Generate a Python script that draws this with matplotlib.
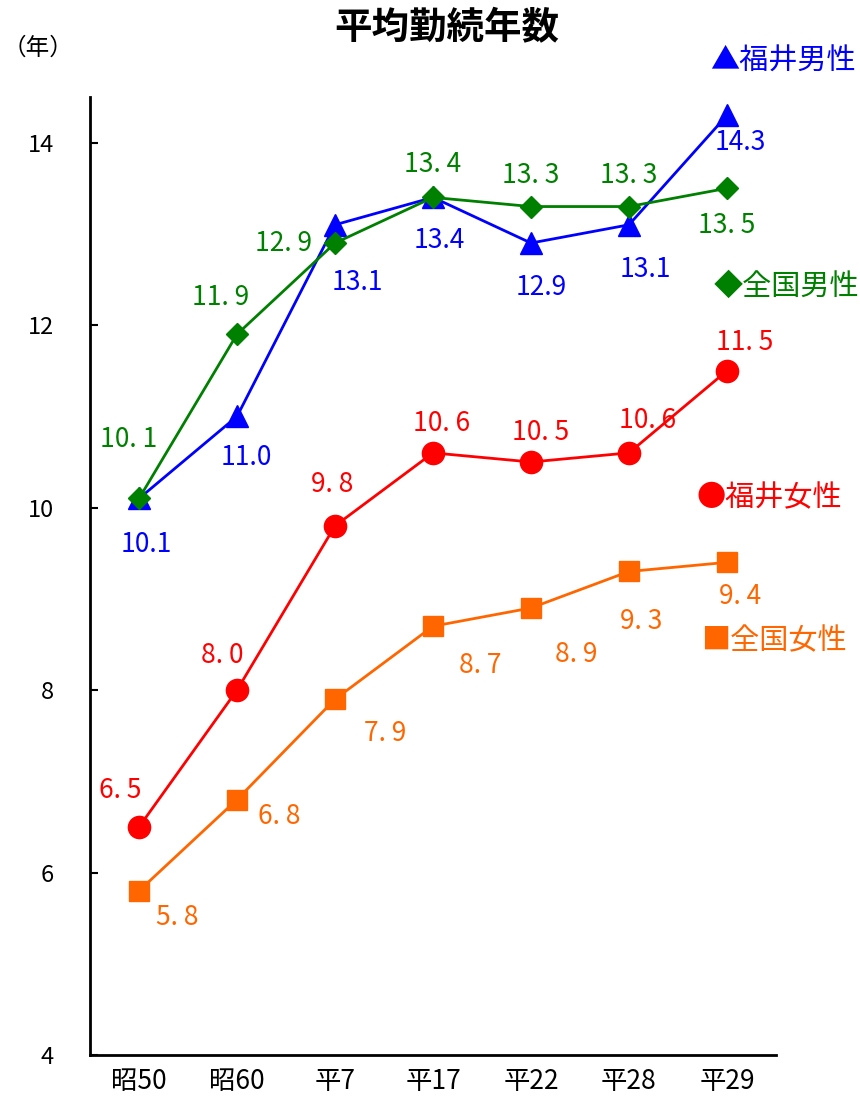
import matplotlib.pyplot as plt

plt.rcParams['font.family'] = ['Noto Sans CJK JP', 'DejaVu Sans']

# データ
years = ["昭50", "昭60", "平7", "平17", "平22", "平28", "平29"]
fukui_male = [10.1, 11.0, 13.1, 13.4, 12.9, 13.1, 14.3]
zenkoku_male = [10.1, 11.9, 12.9, 13.4, 13.3, 13.3, 13.5]
fukui_female = [6.5, 8.0, 9.8, 10.6, 10.5, 10.6, 11.5]
zenkoku_female = [5.8, 6.8, 7.9, 8.7, 8.9, 9.3, 9.4]

# ラベル位置のずれ (ピクセル)
off_fm = [(7, -46), (9, -41), (22, -58), (6, -43), (10, -44), (16, -45), (13, -27)]
off_zm = [(-10, 59), (-16, 37), (-52, 0), (0, 33), (0, 31), (0, 31), (0, -37)]
off_ff = [(-19, 36), (-15, 35), (-3, 41), (9, 29), (10, 29), (19, 32), (18, 28)]
off_zf = [(38, -27), (42, -17), (50, -34), (47, -39), (45, -47), (12, -50), (13, -34)]

BLUE = "#0000FF"
GREEN = "#008000"
RED = "#FF0000"
ORANGE = "#FF6600"

fig = plt.figure(figsize=(8.6, 11.03), dpi=100)
ax = fig.add_axes([0.1047, 0.0435, 0.7976, 0.8685])
xs = list(range(len(years)))

ax.plot(xs, fukui_male, color=BLUE, lw=2, marker="^", ms=16, zorder=3)
ax.plot(xs, zenkoku_male, color=GREEN, lw=2, marker="D", ms=11, zorder=4)
ax.plot(xs, fukui_female, color=RED, lw=2, marker="o", ms=16, zorder=3)
ax.plot(xs, zenkoku_female, color=ORANGE, lw=2, marker="s", ms=15, zorder=3)


def put_labels(vals, offs, color, wide):
    for x, v, (dx, dy) in zip(xs, vals, offs):
        s = f"{v:.1f}"
        if wide:
            s = s.replace(".", ". ")
        ax.annotate(s, (x, v), xytext=(dx, dy), textcoords="offset pixels",
                    ha="center", va="center", color=color, fontsize=19)


put_labels(fukui_male, off_fm, BLUE, False)
put_labels(zenkoku_male, off_zm, GREEN, True)
put_labels(fukui_female, off_ff, RED, True)
put_labels(zenkoku_female, off_zf, ORANGE, True)

ax.set_xlim(-0.5, 6.5)
ax.set_ylim(4, 14.5)
ax.set_xticks(xs)
ax.set_xticklabels(years, fontsize=19)
ax.set_yticks([4, 6, 8, 10, 12, 14])
ax.tick_params(axis="y", direction="in", length=6, width=1.5, labelsize=17, pad=26)
ax.tick_params(axis="x", length=0, pad=9)
for s in ["top", "right"]:
    ax.spines[s].set_visible(False)
for s in ["left", "bottom"]:
    ax.spines[s].set_linewidth(2)

# 凡例代わりのテキスト
fig.text(710 / 860, 1 - 62 / 1103, "▲福井男性", color=BLUE, fontsize=21, ha="left", va="center")
fig.text(714 / 860, 1 - 287 / 1103, "◆全国男性", color=GREEN, fontsize=21, ha="left", va="center")
fig.text(696 / 860, 1 - 498 / 1103, "●福井女性", color=RED, fontsize=21, ha="left", va="center")
fig.text(701 / 860, 1 - 641 / 1103, "■全国女性", color=ORANGE, fontsize=21, ha="left", va="center")

fig.text(447 / 860, 1 - 28 / 1103, "平均勤続年数", fontsize=27, fontweight="bold", ha="center", va="center")
fig.text(38 / 860, 1 - 48 / 1103, "（年）", fontsize=17, ha="center", va="center")

fig.savefig("out.png", dpi=100)
